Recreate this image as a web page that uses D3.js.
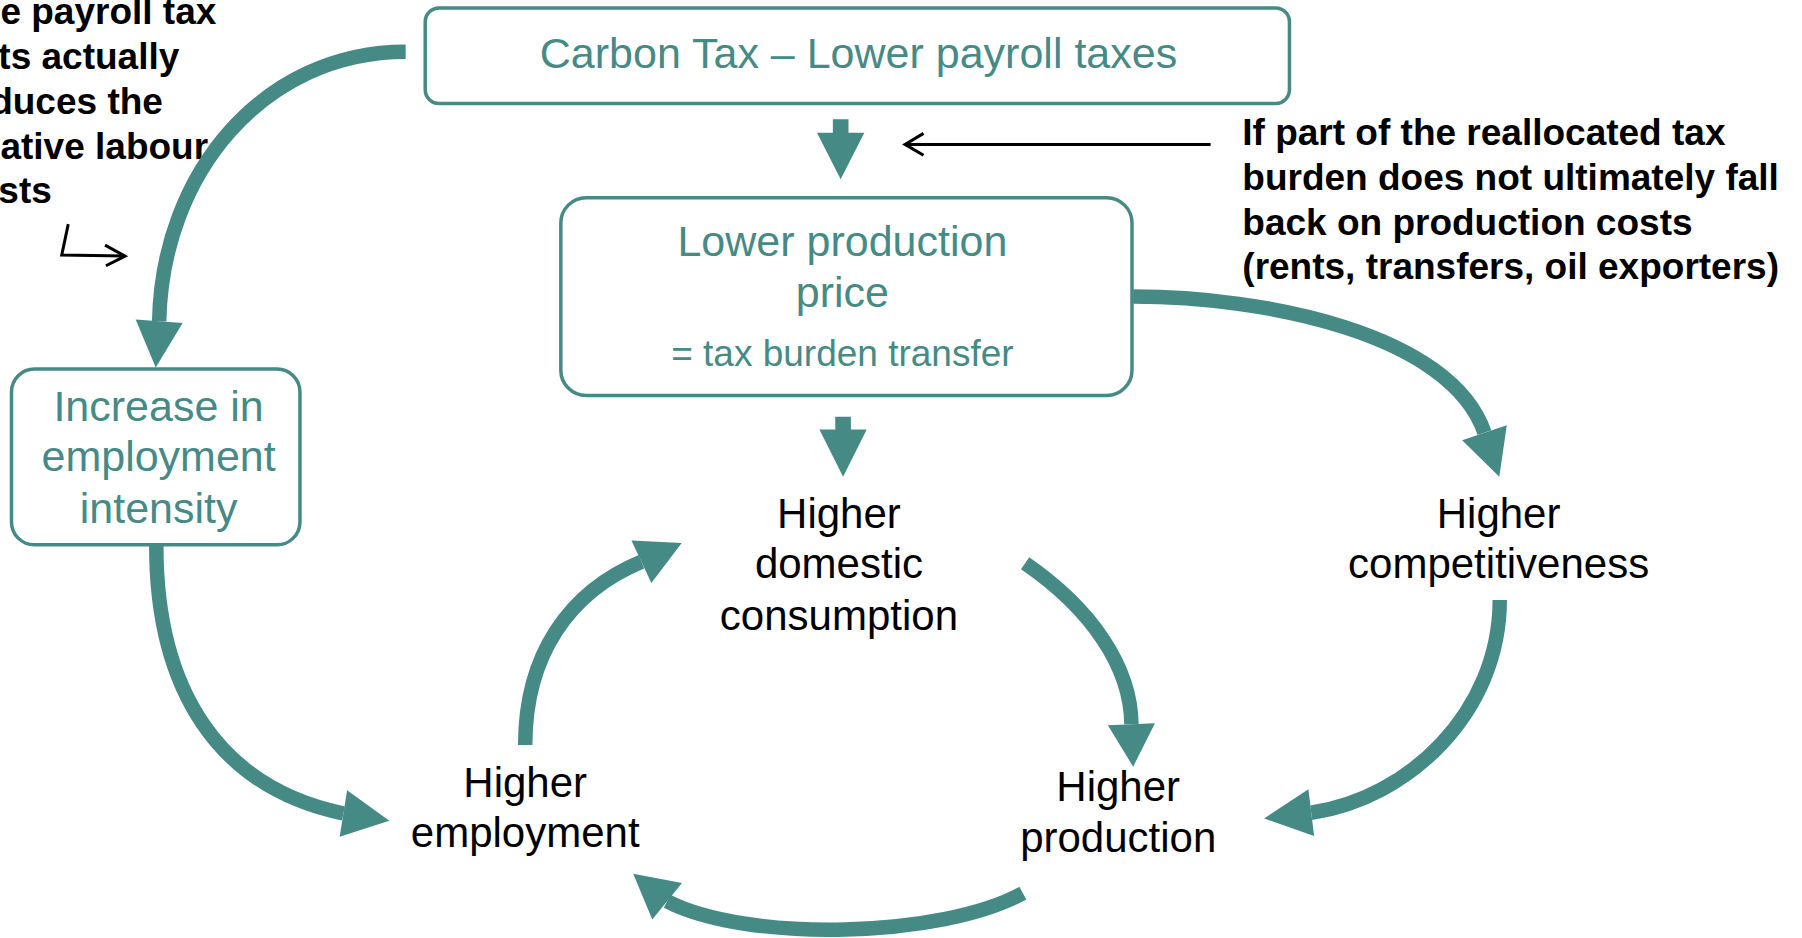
<!DOCTYPE html>
<html>
<head>
<meta charset="utf-8">
<script src="https://cdn.jsdelivr.net/npm/d3@7"></script>
<style>
  html, body { margin: 0; padding: 0; background: #fff; }
  svg { display: block; }
  text { font-family: "Liberation Sans", Arial, Helvetica, sans-serif; }
</style>
</head>
<body>
<div id="chart"></div>
<script>
// --- content ---
const boxLabels = [
  ["Carbon Tax \u2013 Lower payroll taxes"],
  ["Lower production", "price"],
  ["Increase in", "employment", "intensity"]
];
const boxNote = "= tax burden transfer";
const effectLabels = [
  ["Higher", "domestic", "consumption"],
  ["Higher", "competitiveness"],
  ["Higher", "employment"],
  ["Higher", "production"]
];
const leftNote = ["The payroll tax", "cuts actually", "reduces the", "relative labour", "costs"];
const rightNote = [
  "If part of the reallocated tax",
  "burden does not ultimately fall",
  "back on production costs",
  "(rents, transfers, oil exporters)"
];

// --- layout (in the 1568x816 reference frame) ---
const W = 1802, H = 938;
const teal = "#468a86";
const x = d3.scaleLinear().domain([0, 1568]).range([0, W]);
const y = d3.scaleLinear().domain([0, 816]).range([0, H]);

const boxLayout = [
  {x0: 370, y0: 7, x1: 1122, y1: 90, r: 12, cx: 747, base: [59]},
  {x0: 488, y0: 172, x1: 985, y1: 344, r: 22, cx: 733, base: [223, 267]},
  {x0: 10, y0: 321, x1: 261, y1: 474, r: 20, cx: 138, base: [366, 410, 455]}
];
const effectLayout = [
  {cx: 730, base: [459, 503, 548]},
  {cx: 1304, base: [459, 503]},
  {cx: 457, base: [693, 737]},
  {cx: 973, base: [697, 741]}
];
// cubic curve points + arrow tip
const curveLinks = [
  {p: [[353, 45], [230, 45], [141, 150], [138.5, 279.5]], tip: [135.5, 319.6]},
  {p: [[986, 258], [1100, 258], [1262, 290], [1291.7, 376.4]], tip: [1304.6, 414.8]},
  {p: [[136, 475], [136, 600], [190, 685], [298.8, 707.7]], tip: [338.8, 714.1]},
  {p: [[457, 648], [457, 570], [495, 515], [558.1, 488.7]], tip: [593.2, 472.3]},
  {p: [[892, 490], [950, 530], [984, 580], [984.5, 630]], tip: [986, 667]},
  {p: [[890, 777], [820, 816], [650, 820], [580.5, 784]], tip: [551, 760]},
  {p: [[1305, 522], [1305, 620], [1225, 695], [1141, 707]], tip: [1100, 712]}
];
const blockArrows = [
  {cx: 731.5, top: 103.8, neck: 115.5, tip: 156},
  {cx: 733.6, top: 362.6, neck: 373.6, tip: 414.8}
];

const svg = d3.select("#chart").append("svg")
  .attr("width", W)
  .attr("height", H);

// boxes
svg.append("g").selectAll("rect")
  .data(boxLayout)
  .join("rect")
  .attr("x", d => x(d.x0))
  .attr("y", d => y(d.y0))
  .attr("width", d => x(d.x1) - x(d.x0))
  .attr("height", d => y(d.y1) - y(d.y0))
  .attr("rx", d => x(d.r))
  .attr("fill", "none")
  .attr("stroke", teal)
  .attr("stroke-width", 3.5);

// box texts
boxLayout.forEach((b, i) => {
  svg.append("g").selectAll("text")
    .data(boxLabels[i])
    .join("text")
    .attr("x", x(b.cx))
    .attr("y", (d, j) => y(b.base[j]))
    .attr("text-anchor", "middle")
    .attr("fill", teal)
    .style("font-size", "43px")
    .text(d => d);
});
svg.append("text")
  .attr("x", x(733))
  .attr("y", y(318))
  .attr("text-anchor", "middle")
  .attr("fill", teal)
  .style("font-size", "37px")
  .text(boxNote);

// effect labels
effectLayout.forEach((b, i) => {
  svg.append("g").selectAll("text")
    .data(effectLabels[i])
    .join("text")
    .attr("x", x(b.cx))
    .attr("y", (d, j) => y(b.base[j]))
    .attr("text-anchor", "middle")
    .attr("fill", "#000")
    .style("font-size", "42px")
    .text(d => d);
});

// bold notes
svg.append("g").selectAll("text")
  .data(leftNote)
  .join("text")
  .attr("x", x(-39))
  .attr("y", (d, i) => y(21 + i * 39))
  .attr("font-weight", "bold")
  .style("font-size", "37px")
  .text(d => d);

svg.append("g").selectAll("text")
  .data(rightNote)
  .join("text")
  .attr("x", x(1081))
  .attr("y", (d, i) => y(126 + i * 39))
  .attr("font-weight", "bold")
  .style("font-size", "37px")
  .text(d => d);

// curved arrows
const headHalf = 20.5;
const arrows = svg.append("g");
curveLinks.forEach(l => {
  const pts = l.p.map(p => [x(p[0]), y(p[1])]);
  const path = d3.path();
  path.moveTo(...pts[0]);
  path.bezierCurveTo(...pts[1], ...pts[2], ...pts[3]);
  arrows.append("path")
    .attr("d", path.toString())
    .attr("fill", "none")
    .attr("stroke", teal)
    .attr("stroke-width", 14.5);

  const b = pts[3], t = [x(l.tip[0]), y(l.tip[1])];
  const dx = t[0] - b[0], dy = t[1] - b[1];
  const len = Math.hypot(dx, dy);
  const nx = -dy / len, ny = dx / len;
  const hw = x(headHalf);
  arrows.append("path")
    .attr("d", d3.line()([[b[0] + nx * hw, b[1] + ny * hw], t, [b[0] - nx * hw, b[1] - ny * hw]]) + "Z")
    .attr("fill", teal);
});

// block arrows
svg.append("g").selectAll("path")
  .data(blockArrows)
  .join("path")
  .attr("d", d => d3.line()([
    [x(d.cx - 6.8), y(d.top)], [x(d.cx + 6.8), y(d.top)],
    [x(d.cx + 6.8), y(d.neck)], [x(d.cx + 20.6), y(d.neck)],
    [x(d.cx), y(d.tip)],
    [x(d.cx - 20.6), y(d.neck)], [x(d.cx - 6.8), y(d.neck)]
  ]) + "Z")
  .attr("fill", teal);

// thin black arrows
const thin = svg.append("g")
  .attr("fill", "none")
  .attr("stroke", "#000")
  .attr("stroke-width", 3);
const line = d3.line().x(d => x(d[0])).y(d => y(d[1]));
thin.append("path").attr("d", line([[1053.4, 125.6], [787.5, 125.6]]));
thin.append("path").attr("d", line([[803.6, 116], [787.5, 125.6], [803.6, 135]]));
thin.append("path").attr("d", line([[59.4, 195], [53.7, 221.9], [108.8, 222.8]]));
thin.append("path").attr("d", line([[91.4, 213.2], [108.8, 222.8], [92.2, 231.2]]));
</script>
</body>
</html>
